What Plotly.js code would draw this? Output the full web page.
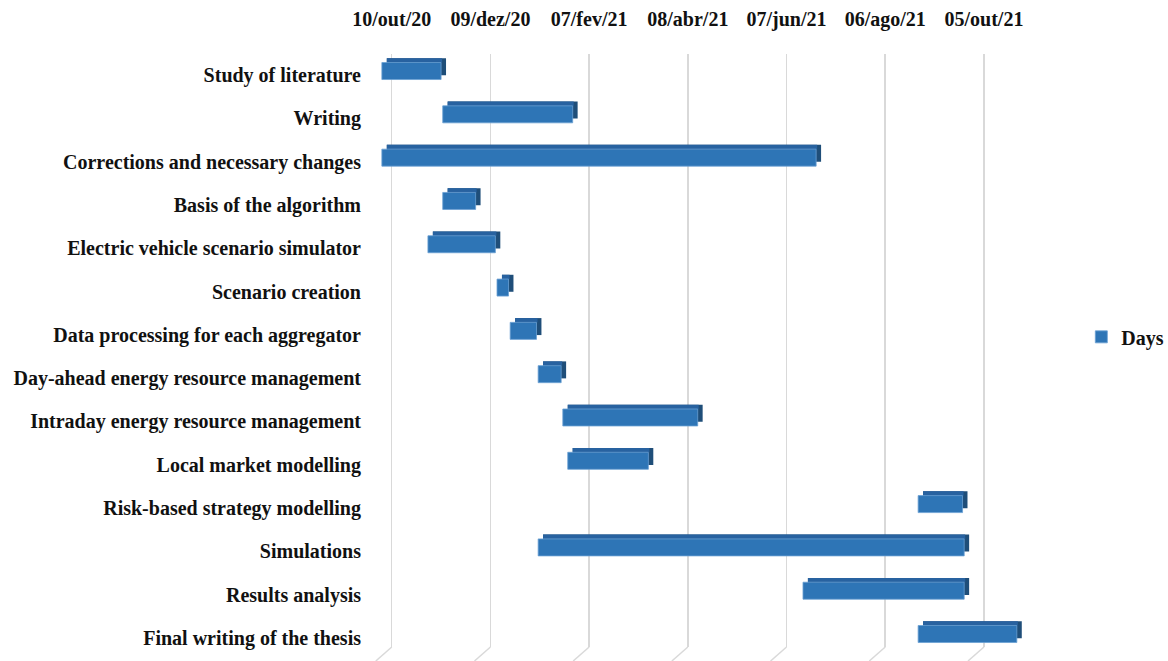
<!DOCTYPE html>
<html>
<head>
<meta charset="utf-8">
<script src="https://cdn.plot.ly/plotly-3.0.1.min.js"></script>
<style>
  html, body { margin: 0; padding: 0; background: #ffffff; }
  #chart { width: 1168px; height: 661px; }
</style>
</head>
<body>
<div id="chart"></div>
<script>
// Thesis work plan: each task starts on a date and lasts a number of days
const tasks = [
  'Study of literature',
  'Writing',
  'Corrections and necessary changes',
  'Basis of the algorithm',
  'Electric vehicle scenario simulator',
  'Scenario creation',
  'Data processing for each aggregator',
  'Day-ahead energy resource management',
  'Intraday energy resource management',
  'Local market modelling',
  'Risk-based strategy modelling',
  'Simulations',
  'Results analysis',
  'Final writing of the thesis'
];
const startDates = [
  '2020-10-04', '2020-11-10', '2020-10-04', '2020-11-10', '2020-11-01',
  '2020-12-13', '2020-12-21', '2021-01-07', '2021-01-22', '2021-01-25',
  '2021-08-26', '2021-01-07', '2021-06-17', '2021-08-26'
];
const durationDays = [36, 79, 264, 20, 41, 7, 16, 14, 82, 49, 27, 259, 98, 60];

// Date axis ticks (every 60 days)
const tickDates = ['2020-10-10', '2020-12-09', '2021-02-07', '2021-04-08', '2021-06-07', '2021-08-06', '2021-10-05'];
const tickLabels = ['10/out/20', '09/dez/20', '07/fev/21', '08/abr/21', '07/jun/21', '06/ago/21', '05/out/21'];

const DAY = 864e5;
function shiftDate(d, days) {
  const t = new Date(d + 'T00:00:00Z').getTime() + days * DAY;
  return new Date(t).toISOString().slice(0, 19).replace('T', ' ');
}

const fontFamily = 'Liberation Serif, Times New Roman, serif';
const durMs = durationDays.map(d => d * DAY);

// 3D look: a dark side face and a mid-blue top face sit just behind each bar
const depthDays = 3;
const sideFace = {
  type: 'bar', orientation: 'h', y: tasks,
  base: startDates.map(d => shiftDate(d, depthDays)),
  x: durMs,
  offset: -0.387, width: 0.3925,
  marker: { color: '#1F4E79', line: { width: 0 } },
  showlegend: false, hoverinfo: 'skip'
};
const topFace = {
  type: 'bar', orientation: 'h', y: tasks,
  base: startDates.map(d => shiftDate(d, depthDays)),
  x: durationDays.map(d => (d - depthDays + 0.6) * DAY),
  offset: -0.387, width: 0.1,
  marker: { color: '#2862A0', line: { width: 0 } },
  showlegend: false, hoverinfo: 'skip'
};
const frontFace = {
  type: 'bar', orientation: 'h', y: tasks,
  base: startDates, x: durMs,
  offset: -0.288, width: 0.3925,
  name: 'Days',
  marker: { color: '#2E75B6', line: { color: '#6A9FD3', width: 0.8 } },
  hovertemplate: '%{y}<br>%{base|%d/%m/%Y}: %{customdata} days<extra></extra>',
  customdata: durationDays
};

// Floor edges of the vertical gridlines
const tailShapes = tickDates.map(t => ({
  type: 'line', xref: 'x', yref: 'paper', layer: 'below',
  x0: t, y0: 0, x1: shiftDate(t, -9.7), y1: -0.0236,
  line: { color: '#D9D9D9', width: 1.5 }
}));

const layout = {
  width: 1168, height: 661,
  margin: { l: 372, r: 138, t: 54, b: 14, autoexpand: false },
  paper_bgcolor: '#ffffff', plot_bgcolor: '#ffffff',
  barmode: 'overlay',
  showlegend: true,
  xaxis: {
    type: 'date', side: 'top',
    range: ['2020-09-28', '2021-11-02'],
    tickvals: tickDates, ticktext: tickLabels,
    ticks: '', ticklabelstandoff: 23,
    showgrid: true, gridcolor: '#D9D9D9', gridwidth: 1.5,
    zeroline: false, showline: false,
    tickfont: { family: fontFamily, size: 20, weight: 'bold', color: '#111111' }
  },
  yaxis: {
    type: 'category', autorange: false,
    range: [13.208, -0.485],
    ticks: '', ticklabelstandoff: 10,
    showgrid: false, zeroline: false, showline: false,
    tickfont: { family: fontFamily, size: 20, weight: 'bold', color: '#111111' }
  },
  legend: {
    x: 1.078, xanchor: 'left', y: 0.523, yanchor: 'middle',
    font: { family: fontFamily, size: 20, weight: 'bold', color: '#111111' },
    itemwidth: 30, bgcolor: 'rgba(0,0,0,0)'
  },
  shapes: tailShapes
};

Plotly.newPlot('chart', [sideFace, topFace, frontFace], layout, { displayModeBar: false, staticPlot: true });
</script>
</body>
</html>
